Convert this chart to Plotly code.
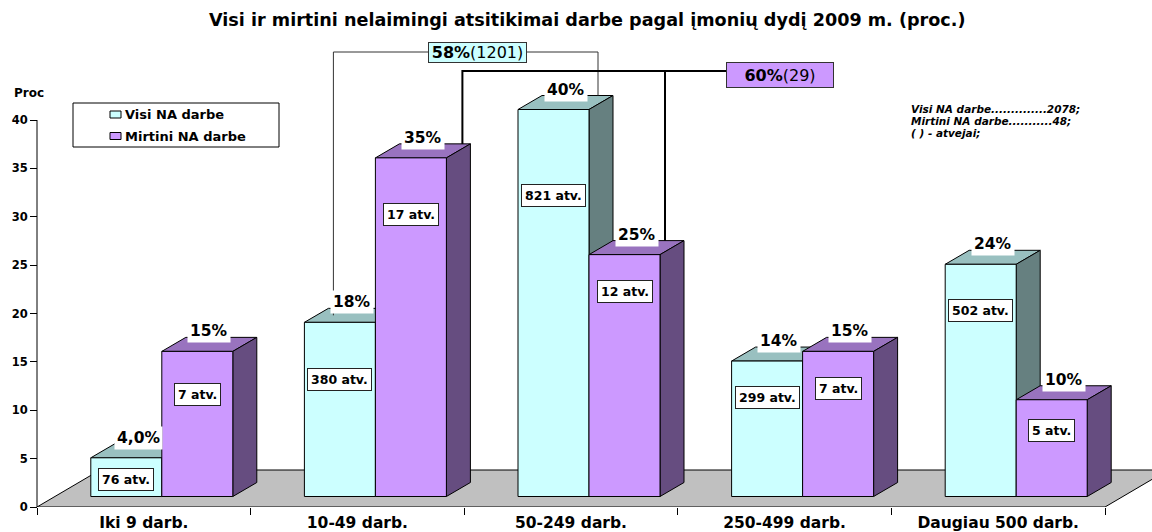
import plotly.graph_objects as go

# ---------------- data ----------------
categories = ["Iki 9 darb.", "10-49 darb.", "50-249 darb.", "250-499 darb.", "Daugiau 500 darb."]
series_names = ["Visi NA darbe", "Mirtini NA darbe"]
visi_pct = [4.0, 18, 40, 14, 24]
mirtini_pct = [15, 35, 25, 15, 10]
visi_cnt = [76, 380, 821, 299, 502]
mirtini_cnt = [7, 17, 12, 7, 5]
visi_pct_labels = ["4,0%", "18%", "40%", "14%", "24%"]
mirtini_pct_labels = ["15%", "35%", "25%", "15%", "10%"]
y_ticks = [0, 5, 10, 15, 20, 25, 30, 35, 40]
total_visi = 2078
total_mirtini = 48
group_visi = ("58%", "(1201)")
group_mirtini = ("60%", "(29)")

# ---------------- layout / geometry (pixels -> axis units) ----------------
FIG_W, FIG_H = 1152, 532
PLOT_L, PLOT_R, PLOT_T, PLOT_B = 30, 1152, 30, 507
AXIS_PX = 37
PX_PER_CAT = 213.6
PX_PER_UNIT = 9.675


def dx(px):
    return px / PX_PER_CAT


def dy(px):
    return px / PX_PER_UNIT


def paper_x(px):
    return (px - PLOT_L) / (PLOT_R - PLOT_L)


def paper_y(py):
    return (PLOT_B - py) / (PLOT_B - PLOT_T)


x_lo = -0.5 - dx(AXIS_PX - PLOT_L)
x_hi = -0.5 + dx(PLOT_R - AXIS_PX)
y_hi = dy(PLOT_B - PLOT_T)

BW = dx(71)            # bar width
SX, SY = dx(18), dy(10.5)   # bar front offset inside the floor
DDX, DDY = dx(24), dy(14)   # bar depth
FDX, FDY = dx(63), dy(37)   # floor depth

FONT = "DejaVu Sans"
VISI_FRONT, VISI_TOP, VISI_SIDE = "#CCFFFF", "#99C0C0", "#668080"
MIRT_FRONT, MIRT_TOP, MIRT_SIDE = "#CC99FF", "#9973BF", "#664D80"

# count-label vertical positions (axis units)
visi_cnt_y = [2.82, 13.13, 32.16, 11.27, 20.33]
mirt_cnt_y = [11.68, 30.21, 22.29, 12.20, 7.86]

fig = go.Figure()
shapes = []
annotations = []


def poly(pts, fill, layer="below", width=1, color="black"):
    path = "M " + " L ".join(f"{x:.5f},{y:.5f}" for x, y in pts) + " Z"
    return dict(type="path", path=path, xref="x", yref="y", fillcolor=fill,
                line=dict(color=color, width=width), layer=layer)


# floor
shapes.append(poly([(-0.5, 0), (4.5, 0), (4.5 + FDX, FDY), (-0.5 + FDX, FDY)], "#C0C0C0"))

xs = list(range(len(categories)))
series = [
    (visi_pct, SX - BW, VISI_FRONT, VISI_TOP, VISI_SIDE),
    (mirtini_pct, SX, MIRT_FRONT, MIRT_TOP, MIRT_SIDE),
]
for vals, off, front, top, side in series:
    for i, v in zip(xs, vals):
        x0 = i + off
        x1 = x0 + BW
        y0 = SY
        y1 = SY + v
        shapes.append(poly([(x0, y1), (x1, y1), (x1 + DDX, y1 + DDY), (x0 + DDX, y1 + DDY)], top))
        shapes.append(poly([(x1, y0), (x1 + DDX, y0 + DDY), (x1 + DDX, y1 + DDY), (x1, y1)], side))
    fig.add_trace(go.Bar(
        x=xs, y=vals, base=SY, width=BW, offset=off,
        marker=dict(color=front, line=dict(color="black", width=1)),
        showlegend=False, hoverinfo="skip"))

# y-axis line (0..40)
shapes.append(dict(type="line", xref="x", yref="y", x0=-0.5, x1=-0.5, y0=0, y1=max(y_ticks),
                   line=dict(color="black", width=1), layer="above"))

# percent labels on top of bars
for vals, labels, off in [(visi_pct, visi_pct_labels, SX - BW), (mirtini_pct, mirtini_pct_labels, SX)]:
    for i, v, t in zip(xs, vals, labels):
        annotations.append(dict(
            x=i + off + BW / 2 + DDX / 2, y=SY + v + dy(20), xref="x", yref="y",
            text=t, showarrow=False, bgcolor="white", borderpad=2,
            xanchor="center", yanchor="middle",
            font=dict(family=FONT, size=15.5, color="black", weight="bold")))

# count labels inside bars
for cnts, ys, off in [(visi_cnt, visi_cnt_y, SX - BW), (mirtini_cnt, mirt_cnt_y, SX)]:
    for i, c, yy in zip(xs, cnts, ys):
        annotations.append(dict(
            x=i + off + BW / 2, y=yy, xref="x", yref="y",
            text=f"{c} atv.", showarrow=False, bgcolor="white", borderpad=3,
            bordercolor="#222222", borderwidth=1, xanchor="center", yanchor="middle",
            font=dict(family=FONT, size=12.5, color="black", weight="bold")))

# brackets joining the two largest groups
gray_level = dy(PLOT_B - 52)
black_level = dy(PLOT_B - 71)
gl_x = 1 + SX - BW + dx(29)
gl_y = SY + visi_pct[1] + DDY * 0.5
gr_x = 2 + SX - BW + dx(80)
gr_y = SY + visi_pct[2] + DDY
shapes.append(dict(type="path", xref="x", yref="y", layer="above",
                   path=f"M {gl_x},{gl_y} L {gl_x},{gray_level} L {gr_x},{gray_level} L {gr_x},{gr_y}",
                   line=dict(color="#333333", width=1)))
bl_x = 1 + SX + dx(87)
bl_y = SY + mirtini_pct[1] + DDY
br_x = 2 + SX + dx(76)
br_y = SY + mirtini_pct[2] + DDY
box60_x = -0.5 + dx(780 - AXIS_PX)
shapes.append(dict(type="path", xref="x", yref="y", layer="above",
                   path=f"M {bl_x},{bl_y} L {bl_x},{black_level} L {box60_x},{black_level}",
                   line=dict(color="black", width=2)))
shapes.append(dict(type="line", xref="x", yref="y", layer="above",
                   x0=br_x, x1=br_x, y0=black_level, y1=br_y,
                   line=dict(color="black", width=2)))

annotations.append(dict(
    x=paper_x(477), y=paper_y(52), xref="paper", yref="paper",
    text=f"<b>{group_visi[0]}</b>{group_visi[1]}", showarrow=False,
    xanchor="center", yanchor="middle",
    bgcolor=VISI_FRONT, bordercolor="#333333", borderwidth=1, borderpad=1,
    width=95, height=17,
    font=dict(family=FONT, size=16, color="black")))
annotations.append(dict(
    x=paper_x(780), y=paper_y(75), xref="paper", yref="paper",
    text=f"<b>{group_mirtini[0]}</b>{group_mirtini[1]}", showarrow=False,
    xanchor="center", yanchor="middle",
    bgcolor=MIRT_FRONT, bordercolor="#333333", borderwidth=1, borderpad=1,
    width=104, height=22,
    font=dict(family=FONT, size=16, color="black")))

# manual legend
shapes.append(dict(type="rect", xref="paper", yref="paper", layer="above",
                   x0=paper_x(73), x1=paper_x(279), y0=paper_y(147), y1=paper_y(103),
                   fillcolor="white", line=dict(color="black", width=1)))
for name, col, cy in [(series_names[0], VISI_FRONT, 114.5), (series_names[1], MIRT_FRONT, 136)]:
    shapes.append(dict(type="rect", xref="paper", yref="paper", layer="above",
                       x0=paper_x(110), x1=paper_x(121), y0=paper_y(cy + 3.5), y1=paper_y(cy - 3.5),
                       fillcolor=col, line=dict(color="black", width=1)))
    annotations.append(dict(x=paper_x(123), y=paper_y(cy), xref="paper", yref="paper",
                            text=name, showarrow=False, xanchor="left", yanchor="middle",
                            font=dict(family=FONT, size=13, color="black", weight="bold")))

# totals note
for t, cy in [(f"Visi NA darbe..............{total_visi};", 109.5),
              (f"Mirtini NA darbe...........{total_mirtini};", 121),
              ("( ) - atvejai;", 132.5)]:
    annotations.append(dict(x=paper_x(909), y=paper_y(cy), xref="paper", yref="paper",
                            text=f"<i>{t}</i>", showarrow=False, xanchor="left", yanchor="middle",
                            font=dict(family=FONT, size=10.5, color="black", weight="bold")))

# axis title "Proc"
annotations.append(dict(x=paper_x(12), y=paper_y(93), xref="paper", yref="paper",
                        text="Proc", showarrow=False, xanchor="left", yanchor="middle",
                        font=dict(family=FONT, size=12, color="black", weight="bold")))

# chart title
annotations.append(dict(x=paper_x(587), y=paper_y(20), xref="paper", yref="paper",
                        text="Visi ir mirtini nelaimingi atsitikimai darbe pagal įmonių dydį 2009 m. (proc.)",
                        showarrow=False, xanchor="center", yanchor="middle",
                        font=dict(family=FONT, size=17.6, color="black", weight="bold")))

fig.update_layout(
    width=FIG_W, height=FIG_H,
    margin=dict(l=PLOT_L, r=FIG_W - PLOT_R, t=PLOT_T, b=FIG_H - PLOT_B, autoexpand=False),
    paper_bgcolor="white", plot_bgcolor="white",
    barmode="overlay", showlegend=False,
    shapes=shapes, annotations=annotations,
    xaxis=dict(range=[x_lo, x_hi], tickvals=xs, ticktext=categories, ticks="",
               showgrid=False, zeroline=False, showline=False, fixedrange=True,
               ticklabelstandoff=4,
               tickfont=dict(family=FONT, size=15.5, color="black", weight="bold"),
               minor=dict(tickvals=[i - 0.5 for i in range(len(categories) + 1)], ticks="outside",
                          ticklen=7, tickwidth=1, tickcolor="black", showgrid=False)),
    yaxis=dict(range=[0, y_hi], tickvals=y_ticks, ticks="outside", ticklen=7, tickwidth=1,
               tickcolor="black", anchor="free", position=paper_x(AXIS_PX),
               showgrid=False, zeroline=False, showline=False, fixedrange=True,
               tickfont=dict(family=FONT, size=11.5, color="black", weight="bold")),
)

fig.write_html(
    "out.html",
    config={"displayModeBar": False, "staticPlot": True},
    post_script="document.body.style.margin='0';document.body.style.padding='0';"
                "document.body.style.overflow='hidden';",
)
